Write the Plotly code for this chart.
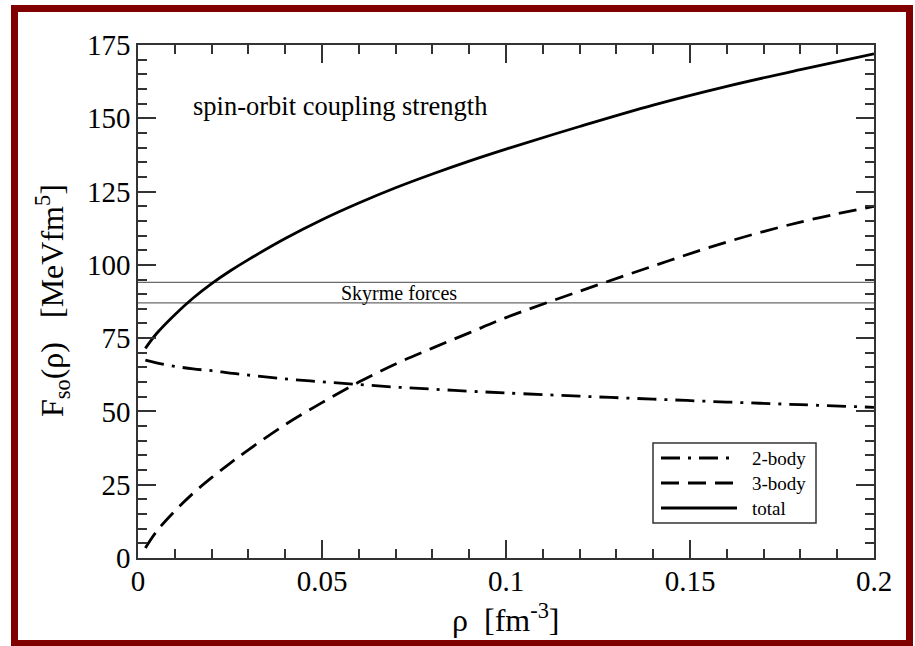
import plotly.graph_objects as go

# ---------------- data ----------------
rho = [0.002, 0.005, 0.01, 0.015, 0.02, 0.025, 0.03, 0.04, 0.05, 0.06, 0.07,
       0.08, 0.09, 0.1, 0.12, 0.14, 0.16, 0.18, 0.2]
two_body = [67.5, 66.6, 65.4, 64.5, 63.9, 63.1, 62.4, 61.1, 60.1, 59.2, 58.3,
            57.6, 56.9, 56.3, 55.2, 54.2, 53.2, 52.3, 51.4]
three_body = [3.4, 9.0, 16.0, 22.1, 27.4, 32.3, 36.9, 45.5, 53.0, 60.0, 66.2,
              71.6, 76.8, 82.0, 91.0, 99.6, 107.8, 114.6, 120.0]
total = [71.5, 76.5, 83.0, 88.7, 93.6, 97.9, 101.8, 109.0, 115.4, 121.1, 126.3,
         131.0, 135.4, 139.5, 147.2, 154.5, 160.9, 166.6, 172.0]
skyrme_levels = [94.0, 87.0]
skyrme_x = [0.0, 0.2]
x_ticks = [0, 0.05, 0.1, 0.15, 0.2]
x_ticklabels = ["0", "0.05", "0.1", "0.15", "0.2"]
y_ticks = [0, 25, 50, 75, 100, 125, 150, 175]
legend_names = ["2-body", "3-body", "total"]

# ---------------- layout constants ----------------
W, H = 915, 646
L, R, T, B = 138, 41, 45, 88
PW, PH = W - L - R, H - T - B
FONT = "Liberation Serif"

def px(xp):
    return (xp - L) / PW

def py(yp):
    return (H - B - yp) / PH

DASHDOT = "19px,8px,3px,8px"
DASH = "18px,9px"
LW = 2.8

fig = go.Figure()

for lvl in skyrme_levels:
    fig.add_trace(go.Scatter(x=skyrme_x, y=[lvl, lvl], mode="lines",
                             line=dict(color="#6a6a6a", width=1.3),
                             showlegend=False, hoverinfo="skip"))

fig.add_trace(go.Scatter(x=rho, y=two_body, mode="lines", name=legend_names[0],
                         line=dict(color="black", width=LW, dash=DASHDOT, shape="spline"),
                         showlegend=False))
fig.add_trace(go.Scatter(x=rho, y=three_body, mode="lines", name=legend_names[1],
                         line=dict(color="black", width=LW, dash=DASH, shape="spline"),
                         showlegend=False))
fig.add_trace(go.Scatter(x=rho, y=total, mode="lines", name=legend_names[2],
                         line=dict(color="black", width=LW, shape="spline"),
                         showlegend=False))

axis_common = dict(
    showline=True, linecolor="#333333", linewidth=1.5, mirror="allticks",
    ticks="inside", ticklen=18, tickwidth=1.5, tickcolor="#333333",
    showgrid=False, zeroline=False,
    tickfont=dict(family=FONT, size=29, color="black"),
)

fig.update_xaxes(range=[0, 0.2], tickvals=x_ticks, ticktext=x_ticklabels,
                 minor=dict(dtick=0.01, ticks="inside", ticklen=9, tickwidth=1.5,
                            tickcolor="#333333", showgrid=False),
                 ticklabelstandoff=-4,
                 **axis_common)
fig.update_yaxes(range=[0, 175], tickvals=y_ticks,
                 minor=dict(dtick=5, ticks="inside", ticklen=9, tickwidth=1.5,
                            tickcolor="#333333", showgrid=False),
                 ticklabelstandoff=0,
                 **axis_common)

shapes = []
# outer frame
shapes.append(dict(type="rect", xref="paper", yref="paper",
                   x0=px(14.5), x1=px(909.5), y0=py(643.5), y1=py(8.5),
                   line=dict(color="#800000", width=7), layer="below"))
# legend box
shapes.append(dict(type="rect", xref="paper", yref="paper",
                   x0=px(653), x1=px(816), y0=py(523), y1=py(443),
                   line=dict(color="#333333", width=1.5), fillcolor="white"))
leg_y = [458, 483, 508]
leg_dash = [DASHDOT, DASH, "solid"]
annotations = []
for name, yy, dd in zip(legend_names, leg_y, leg_dash):
    shapes.append(dict(type="line", xref="paper", yref="paper",
                       x0=px(661), x1=px(737), y0=py(yy), y1=py(yy),
                       line=dict(color="black", width=LW, dash=dd)))
    annotations.append(dict(xref="paper", yref="paper", x=px(750), y=py(yy),
                            text=name, showarrow=False, xanchor="left",
                            yanchor="middle",
                            font=dict(family=FONT, size=19, color="black")))

annotations += [
    dict(xref="paper", yref="paper", x=px(191), y=py(106),
         text="spin-orbit coupling strength", showarrow=False,
         xanchor="left", yanchor="middle",
         font=dict(family=FONT, size=26.5, color="black")),
    dict(xref="paper", yref="paper", x=px(399), y=py(293),
         text="Skyrme forces", showarrow=False,
         xanchor="center", yanchor="middle",
         font=dict(family=FONT, size=20, color="black")),
    dict(xref="paper", yref="paper", x=px(52), y=py(301),
         text="F<sub>so</sub>(ρ)   [MeVfm<sup>5</sup>]", showarrow=False,
         textangle=-90, xanchor="center", yanchor="middle",
         font=dict(family=FONT, size=32, color="black")),
    dict(xref="paper", yref="paper", x=px(505), y=py(618),
         text="ρ  [fm<sup>-3</sup>]", showarrow=False,
         xanchor="center", yanchor="middle",
         font=dict(family=FONT, size=32, color="black")),
]

fig.update_layout(
    width=W, height=H,
    margin=dict(l=L, r=R, t=T, b=B),
    paper_bgcolor="white", plot_bgcolor="white",
    font=dict(family=FONT),
    shapes=shapes, annotations=annotations,
    showlegend=False,
)

fig.write_html("out.html")
